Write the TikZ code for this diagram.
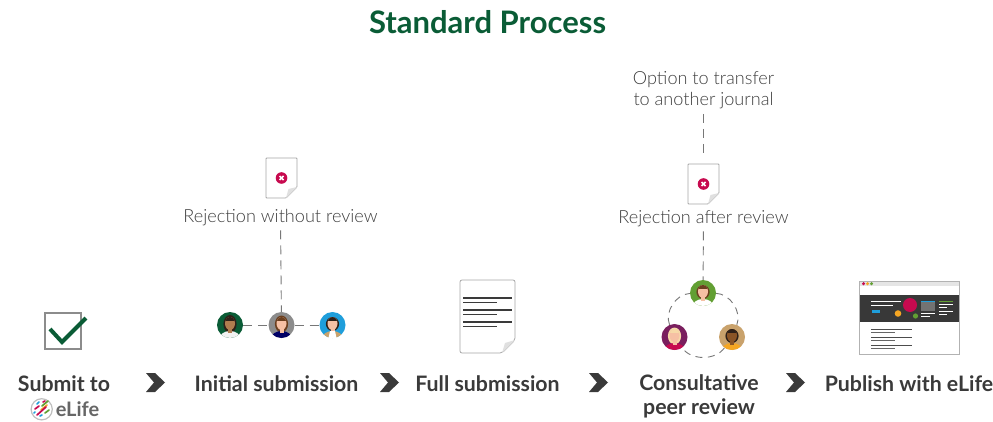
\documentclass[tikz,border=0pt]{standalone}
\usepackage{fontspec}
\setmainfont{Lato}
\newfontfamily\lightfont{Lato Light}
\usetikzlibrary{positioning}
\definecolor{elifegreen}{HTML}{0A5C36}
\definecolor{inktext}{HTML}{3A3A3A}
\definecolor{softtext}{HTML}{3E3E3E}
\definecolor{dashgrey}{HTML}{777777}
\definecolor{crimson}{HTML}{C70A4F}
\definecolor{skinlight}{HTML}{F6C0A4}
\definecolor{skintan}{HTML}{B07D4F}
\definecolor{skindark}{HTML}{8A5426}
\definecolor{hairbrown}{HTML}{6B3F1F}
\definecolor{hairdark}{HTML}{2E2018}
\definecolor{hairblond}{HTML}{F7D9A8}
\definecolor{leafgreen}{HTML}{629F33}
\definecolor{plum}{HTML}{7A1F5E}
\definecolor{sand}{HTML}{C9A26C}
\definecolor{skyblue}{HTML}{1F9EDB}
\definecolor{amber}{HTML}{F5A623}
\tikzset{
    titletext/.style={font=\fontsize{31}{33}\bfseries\selectfont, text=elifegreen, inner sep=0pt},
    steptext/.style={font=\fontsize{21.3}{24}\bfseries\selectfont, text=inktext, inner sep=0pt, align=center},
    notetext/.style={font=\fontsize{18.1}{21}\lightfont\selectfont, text=softtext, inner sep=0pt, align=center},
    dashline/.style={draw=dashgrey, line width=0.9pt, dash pattern=on 9pt off 6pt},
    ringdash/.style={dashline, dash pattern=on 7pt off 5.5pt, bend left=55, looseness=0.95},
    persondisc/.style={circle, minimum size=26pt, inner sep=0pt},
    stepchevron/.style={fill=inktext},
    pics/person/.style n args={4}{code={
        \fill[#2] (0,-1) ellipse (6.6 and #4);
        \begin{scope}
            \clip (0,0) circle (13);
            \fill[#3] (0,13.5) ellipse (10.5 and 7.5);
        \end{scope}
        \fill[#1] (-2,3) rectangle (2,8);
        \fill[#1] (0,-1.5) ellipse (5 and 6.5);
        \begin{scope}
            \clip (0,-1.5) ellipse (5 and 6.5);
            \fill[#2] (-6,-9) rectangle (6,-4.5);
        \end{scope}
    }},
    pics/rejectdoc/.style={code={
        \draw[line width=0.8pt, draw=black!35, fill=white, rounded corners=0.7pt]
            (-15.5,-20) -- (15.5,-20) -- (15.5,9) -- (4.5,20) -- (-15.5,20) -- cycle;
        \fill[black!12] (15.5,9) -- (7,11) -- (4.5,20) -- cycle;
        \fill[crimson] (0,0) circle (5.8);
        \draw[white, line width=1.6pt] (-2,-2) -- (2,2) (-2,2) -- (2,-2);
    }},
}
\begin{document}
\begin{tikzpicture}[x=1pt, y=-1pt]
    \useasboundingbox (0,0) rectangle (993,422);
    % Title
    \node[titletext] (title) at (487.5,22) {Standard Process};

    % Submit
    \draw[line width=2.8pt, draw=black!45] (45,313) rectangle (81,349);
    \draw[line width=4pt, draw=elifegreen] (50,329) -- (62,342) -- (86,318);
    \node[steptext] (submit) at (64,384) {Submit to};
    \node[font=\fontsize{20}{23}\bfseries\selectfont, text=black!60, inner sep=0pt] (elife) at (77.5,409) {eLife};
    \draw[line width=1.2pt, draw=black!25, fill=white] (41.7,409.3) circle (10.6);
    \foreach \xa/\ya/\xb/\yb/\c in {37/404/39/402/skyblue, 43/402/45/401/crimson, 42/406/48/401/leafgreen, 35/409/39/406/crimson, 41/410/47/405/amber, 37/415/46/407/crimson, 45/413/49/410/leafgreen, 34/413/35/412/skyblue, 40/416/42/415/skyblue}
        \draw[line width=1.7pt, line cap=round, draw=\c] (\xa,\ya) -- (\xb,\yb);

    % Chevrons between the steps
    \foreach \x in {146,380,589,786}
        \fill[stepchevron] (\x,373) -- (\x+9,373) -- (\x+19,382.5) -- (\x+9,392) -- (\x,392) -- (\x+8,382.5) -- cycle;

    % Initial submission
    \node[steptext] (initial) at (276.5,384) {Initial submission};
    \node[persondisc, fill=elifegreen] (editora) at (230,325) {};
    \node[persondisc, fill=black!45] (editorb) at (281.5,325) {};
    \node[persondisc, fill=skyblue] (editorc) at (332.5,325) {};
    \pic at (editora) {person={skintan}{hairdark}{black!5}{9}};
    \pic at (editorb) {person={skinlight}{hairbrown}{blue!40!black}{8.5}};
    \pic at (editorc) {person={skinlight}{hairdark}{sand}{7}};
    \fill[white] (330,331) -- (335,331) -- (336.5,338) -- (328.5,338) -- cycle;
    \draw[dashline] (editora) -- (editorb);
    \draw[dashline] (editorb) -- (editorc);
    \pic at (281.5,178) {rejectdoc};
    \node[notetext] (reject) at (280.5,218) {Rejection without review};
    \draw[dashline, shorten <=4pt] (reject) -- (editorb);

    % Full submission
    \node[steptext] (full) at (487.5,384) {Full submission};
    \draw[line width=0.8pt, draw=black!35, fill=white, rounded corners=2pt]
        (460,280) -- (515,280) -- (515,340) -- (502,353) -- (460,353) -- cycle;
    \fill[black!12] (515,340) -- (505,343) -- (502,353) -- cycle;
    \foreach \y in {298,310,322} {
        \draw[line width=1.2pt, draw=inktext] (463,\y) -- (512,\y);
        \draw[line width=1.2pt, draw=inktext] (463,\y+4.3) -- (497,\y+4.3);
    }

    % Consultative peer review
    \node[steptext] (peer) at (699,396) {Consultative\\peer review};
    \node[persondisc, fill=leafgreen] (reviewa) at (703,293) {};
    \node[persondisc, fill=plum] (reviewb) at (674.5,337) {};
    \node[persondisc, fill=sand] (reviewc) at (732,337) {};
    \pic at (reviewa) {person={skinlight}{hairbrown}{white}{7}};
    \pic at (reviewb) {person={skinlight}{hairblond}{crimson}{8.5}};
    \pic at (reviewc) {person={skindark}{hairdark}{amber}{7}};
    \draw[ringdash] (reviewa) to (reviewc);
    \draw[ringdash] (reviewc) to (reviewb);
    \draw[ringdash] (reviewb) to (reviewa);
    \pic at (703.5,184) {rejectdoc};
    \node[notetext] (afterreview) at (703.5,219) {Rejection after review};
    \node[notetext] (transfer) at (703.5,90) {Option to transfer\\to another journal};
    \coordinate (doctop) at (703.5,154);
    \draw[dashline] (transfer.south) ++(0,5) -- (doctop);
    \draw[dashline, shorten <=4pt] (afterreview) -- (reviewa);

    % Publish
    \node[steptext] (publish) at (909,384) {Publish with eLife};
    \draw[line width=1pt, draw=black!30, fill=white] (859,281) rectangle (959,354);
    \fill[black!10] (859.5,281.5) rectangle (958.5,286);
    \fill[black!78] (859.5,295) rectangle (958.5,322);
    \fill[crimson] (863.5,283.7) circle (1.7);
    \fill[amber] (867.5,283.7) circle (1.7);
    \fill[leafgreen] (871.5,283.7) circle (1.7);
    \fill[crimson] (910,305) circle (7);
    \fill[amber] (898,313.5) circle (3.3);
    \fill[leafgreen] (915.5,316) circle (2.6);
    \fill[skyblue] (871.5,310) rectangle (880,313);
    \fill[black!55] (921,301) rectangle (935,311);
    \fill[skyblue] (921,300.5) rectangle (935,301.5);
    \fill[leafgreen] (939,300.5) rectangle (953,301.5);
    \foreach \xa/\xb/\y in {871/901/301.5, 871/892.5/305.5, 921/935/313.5, 921/930/316.5, 939/953/304, 939/947/307, 939/953/311, 939/947/314}
        \draw[line width=1pt, draw=white] (\xa,\y) -- (\xb,\y);
    \foreach \y in {329,337,345} {
        \draw[line width=1pt, draw=black!70] (871,\y) -- (912,\y);
        \draw[line width=1pt, draw=black!60] (871,\y+3.5) -- (895,\y+3.5);
    }
\end{tikzpicture}
\end{document}
